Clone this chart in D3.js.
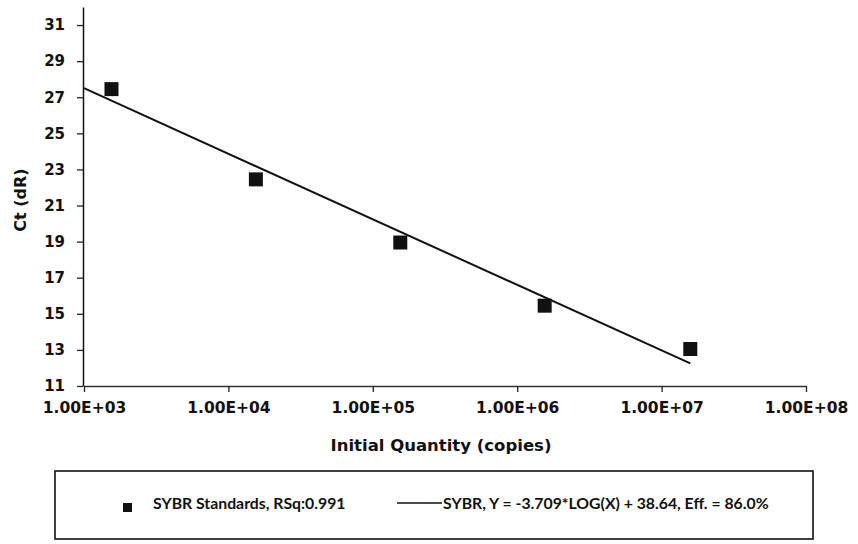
<!DOCTYPE html>
<html lang="en">
<head>
    <meta charset="utf-8">
    <title>Standard Curve</title>
    <script src="https://cdn.jsdelivr.net/npm/d3@7"></script>
    <style type="text/css">
        body
        {
            margin: 0;
            background-color: white;
        }
        svg
        {
            display: block;
            background-color: white;
        }
        .ytick text
        {
            font-family: "DejaVu Sans", sans-serif;
            font-weight: bold;
            font-size: 15px;
        }
        .xtick text
        {
            font-family: "DejaVu Sans", sans-serif;
            font-weight: bold;
            font-size: 15.5px;
        }
        .legend
        {
            font-family: Lato, sans-serif;
            font-weight: bold;
            font-size: 15.8px;
        }
    </style>
</head>
<body>
    <div id="chart_div"></div>
    <script>
    "use strict";
    // standards: initial quantity (copies) vs Ct
    var quantities = [1.55e3, 1.55e4, 1.55e5, 1.55e6, 1.58e7];
    var ctValues = [27.45, 22.45, 18.95, 15.45, 13.05];
    // fit line end points
    var fitX = [1e3, 1.58e7];
    var fitY = [27.5, 12.25];
    var xTicks = [1e3, 1e4, 1e5, 1e6, 1e7, 1e8];
    var yTicks = [11, 13, 15, 17, 19, 21, 23, 25, 27, 29, 31];
    var legendPoints = "SYBR Standards, RSq:0.991";
    var legendLine = "SYBR, Y = -3.709*LOG(X) + 38.64, Eff. = 86.0%";

    var svg_width = 858;
    var svg_height = 544;
    var plotLeft = 84, plotRight = 806, plotTop = 7, plotBottom = 386;

    var svg = d3.select("#chart_div")
        .append("svg")
        .attr("width", svg_width)
        .attr("height", svg_height);

    var xscale = d3.scaleLog()
        .domain([1e3, 1e8])
        .range([plotLeft, plotRight]);
    var yscale = d3.scaleLinear()
        .domain([11, 32])
        .range([plotBottom, plotTop]);

    var xaxis = d3.axisBottom(xscale)
        .tickValues(xTicks)
        .tickSize(6)
        .tickSizeOuter(0)
        .tickPadding(5)
        .tickFormat(function(d)
        {
            var e = Math.round(Math.log10(d));
            return "1.00E+" + (e < 10 ? "0" + e : e);
        });
    var yaxis = d3.axisLeft(yscale)
        .tickValues(yTicks)
        .tickSize(6)
        .tickSizeOuter(0)
        .tickPadding(12)
        .tickFormat(d3.format("d"));

    var gx = svg.append("g")
        .attr("class", "xtick")
        .attr("transform", "translate(0," + plotBottom + ")")
        .call(xaxis);
    var gy = svg.append("g")
        .attr("class", "ytick")
        .attr("transform", "translate(" + (plotLeft - 1) + ",0)")
        .call(yaxis);
    gx.select(".domain").attr("stroke", "#333").attr("stroke-width", 1.3);
    gy.select(".domain").attr("stroke", "#111").attr("stroke-width", 1.5);
    gx.selectAll(".tick line").attr("stroke", "#222").attr("stroke-width", 1.3);
    gy.selectAll(".tick line").attr("stroke", "#222").attr("stroke-width", 1.3);
    gx.selectAll("text").attr("fill", "#111").attr("dy", "1.05em");
    gy.selectAll("text").attr("fill", "#111");

    // axis titles
    svg.append("text")
        .attr("x", 441)
        .attr("y", 451)
        .attr("text-anchor", "middle")
        .style("font-family", "DejaVu Sans, sans-serif")
        .style("font-weight", "bold")
        .style("font-size", "16.5px")
        .attr("fill", "#111")
        .text("Initial Quantity (copies)");
    svg.append("text")
        .attr("transform", "translate(26,200) rotate(-90)")
        .attr("text-anchor", "middle")
        .style("font-family", "DejaVu Sans, sans-serif")
        .style("font-weight", "bold")
        .style("font-size", "16px")
        .attr("fill", "#111")
        .text("Ct (dR)");

    // fit line
    var fitData = fitX.map(function(d, i) { return [d, fitY[i]]; });
    svg.append("path")
        .datum(fitData)
        .attr("fill", "none")
        .attr("stroke", "#111")
        .attr("stroke-width", 2)
        .attr("d", d3.line()
            .x(function(d) { return xscale(d[0]); })
            .y(function(d) { return yscale(d[1]); }));

    // standards
    var sz = 14;
    svg.selectAll("rect.pt")
        .data(quantities)
        .enter()
        .append("rect")
        .attr("class", "pt")
        .attr("x", function(d) { return xscale(d) - sz / 2; })
        .attr("y", function(d, i) { return yscale(ctValues[i]) - sz / 2; })
        .attr("width", sz)
        .attr("height", sz)
        .attr("fill", "#111");

    // legend
    var lg = svg.append("g");
    lg.append("rect")
        .attr("x", 55)
        .attr("y", 471)
        .attr("width", 758)
        .attr("height", 68)
        .attr("fill", "white")
        .attr("stroke", "#111")
        .attr("stroke-width", 1.6);
    lg.append("rect")
        .attr("x", 123)
        .attr("y", 503)
        .attr("width", 9)
        .attr("height", 9)
        .attr("fill", "#111");
    lg.append("text")
        .attr("class", "legend")
        .attr("x", 153)
        .attr("y", 509)
        .attr("fill", "#111")
        .text(legendPoints);
    lg.append("line")
        .attr("x1", 397)
        .attr("x2", 442)
        .attr("y1", 503)
        .attr("y2", 503)
        .attr("stroke", "#111")
        .attr("stroke-width", 1.5);
    lg.append("text")
        .attr("class", "legend")
        .attr("x", 443)
        .attr("y", 509)
        .attr("fill", "#111")
        .text(legendLine);
    </script>
</body>
</html>
